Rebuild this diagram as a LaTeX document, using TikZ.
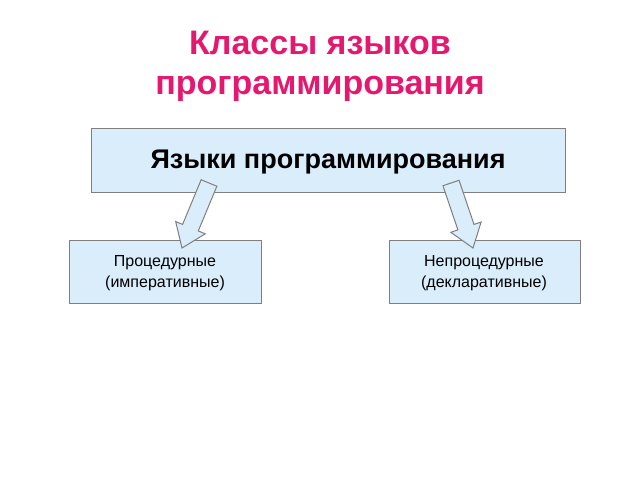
\documentclass[tikz,border=0pt]{standalone}
\usepackage{fontspec}
\setmainfont{Liberation Sans}
\usetikzlibrary{calc}
\definecolor{boxfill}{HTML}{DAEDFB}
\definecolor{boxline}{HTML}{7F7F7F}
\definecolor{titlepink}{HTML}{E5176E}
\begin{document}
\begin{tikzpicture}[x=1pt,y=-1pt,
  box/.style={draw=boxline,fill=boxfill,line width=1pt,anchor=north west,inner sep=0pt},
  barrow/.style={draw=boxline,fill=boxfill,line width=1pt,line join=miter}]
\useasboundingbox (0,0) rectangle (640,480);
\node[titlepink,font=\bfseries\fontsize{34}{40}\selectfont,align=center] (title) at (320,66) {Классы языков\\программирования};
\node[box,minimum width=474,minimum height=64] (main) at (91,128) {};
\node[font=\bfseries\fontsize{27}{30}\selectfont] (maint) at (328,162) {Языки программирования};
\node[box,minimum width=192,minimum height=63] (left) at (69,240) {};
\node[align=center,font=\fontsize{16}{21}\selectfont] (leftt) at (165,273) {Процедурные\\(императивные)};
\node[box,minimum width=191,minimum height=63] (right) at (389,240) {};
\node[align=center,font=\fontsize{16}{21}\selectfont] (rightt) at (484,273) {Непроцедурные\\(декларативные)};
\coordinate (lt) at (209,183);
\coordinate (lh) at (182,248);
\coordinate (rt) at (451,183);
\coordinate (rh) at (473,248);
\foreach \T/\H in {lt/lh,rt/rh}{
  \coordinate (N) at ($(\H)!22pt!(\T)$);
  \draw[barrow] ($(\T)!8.5pt!90:(\H)$) -- ($(N)!8.5pt!-90:(\T)$) -- ($(N)!16pt!-90:(\T)$) -- (\H)
     -- ($(N)!16pt!90:(\T)$) -- ($(N)!8.5pt!90:(\T)$) -- ($(\T)!8.5pt!-90:(\H)$) -- cycle;
}
\end{tikzpicture}
\end{document}
